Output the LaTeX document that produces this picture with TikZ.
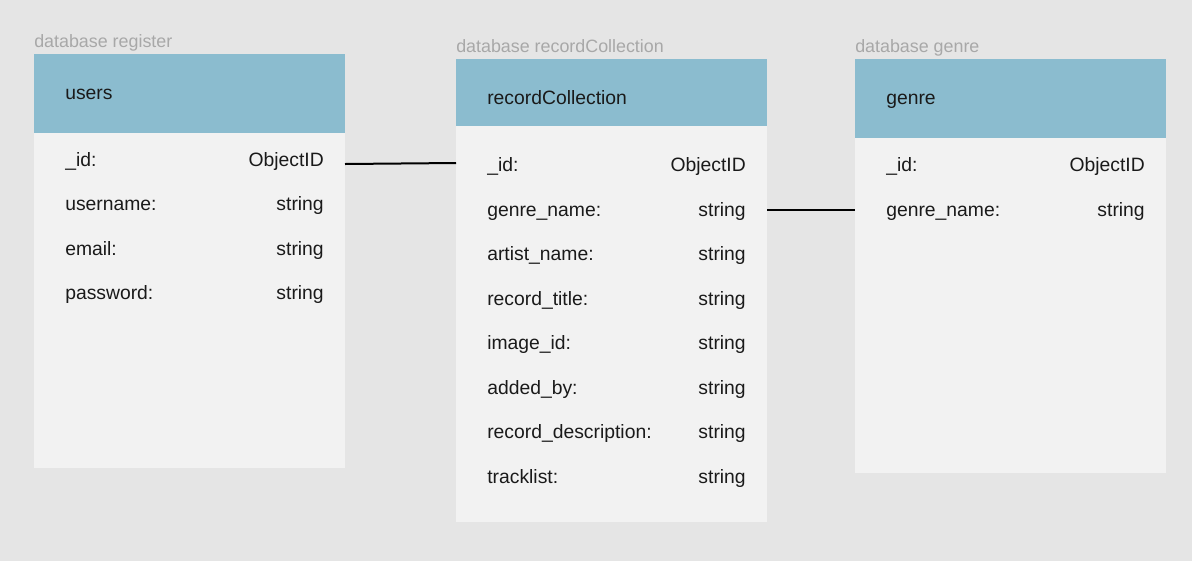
\documentclass[tikz,border=0pt]{standalone}
\usepackage{fontspec}
\setmainfont{Liberation Sans}
\definecolor{bg}{HTML}{E5E5E5}
\definecolor{hdr}{HTML}{8BBCCF}
\definecolor{bodyc}{HTML}{F2F2F2}
\definecolor{lbl}{HTML}{A8A8A8}
\definecolor{txt}{HTML}{1A1A1A}
\begin{document}
\begin{tikzpicture}[x=0.75pt,y=-0.75pt,
  hdrbox/.style={fill=hdr,draw=none,inner sep=0pt,anchor=north west},
  bodybox/.style={fill=bodyc,draw=none,inner sep=0pt,anchor=north west},
  dblabel/.style={anchor=base west,inner sep=0pt,text=lbl,font=\fontsize{13.4pt}{15pt}\selectfont},
  title/.style={anchor=base west,inner sep=0pt,text=txt,font=\fontsize{14.5pt}{17pt}\selectfont},
  fld/.style={anchor=base west,inner sep=0pt,text=txt,font=\fontsize{14.5pt}{17pt}\selectfont},
  typ/.style={anchor=base east,inner sep=0pt,text=txt,font=\fontsize{14.5pt}{17pt}\selectfont},
  link/.style={draw=black,line width=1.5pt}]
\fill[bg] (0,0) rectangle (1192,561);
\useasboundingbox (0,0) rectangle (1192,561);

% users
\node[bodybox,minimum width=311*0.75pt,minimum height=414*0.75pt] (ubody) at (34,54) {};
\node[hdrbox,minimum width=311*0.75pt,minimum height=79*0.75pt] (uhdr) at (34,54) {};
\node[dblabel] (ulbl) at (34,47) {database register};
\node[title] (utitle) at (65,99) {users};
\node[fld] (uid) at (65,166) {\_id:};
\node[typ] (uidt) at (324,166) {ObjectID};
\node[fld] (uun) at (65,210) {username:};
\node[typ] (uunt) at (324,210) {string};
\node[fld] (uem) at (65,255) {email:};
\node[typ] (uemt) at (324,255) {string};
\node[fld] (upw) at (65,299) {password:};
\node[typ] (upwt) at (324,299) {string};

% recordCollection
\node[bodybox,minimum width=311*0.75pt,minimum height=463*0.75pt] (rbody) at (456,59) {};
\node[hdrbox,minimum width=311*0.75pt,minimum height=67*0.75pt] (rhdr) at (456,59) {};
\node[dblabel] (rlbl) at (456,52) {database recordCollection};
\node[title] (rtitle) at (487,104) {recordCollection};
\node[fld] (rid) at (487,171) {\_id:};
\node[typ] (ridt) at (746,171) {ObjectID};
\node[fld] (rgn) at (487,216) {genre\_name:};
\node[typ] (rgnt) at (746,216) {string};
\node[fld] (ran) at (487,260) {artist\_name:};
\node[typ] (rant) at (746,260) {string};
\node[fld] (rrt) at (487,305) {record\_title:};
\node[typ] (rrtt) at (746,305) {string};
\node[fld] (rim) at (487,349) {image\_id:};
\node[typ] (rimt) at (746,349) {string};
\node[fld] (rab) at (487,394) {added\_by:};
\node[typ] (rabt) at (746,394) {string};
\node[fld] (rrd) at (487,438) {record\_description:};
\node[typ] (rrdt) at (746,438) {string};
\node[fld] (rtl) at (487,483) {tracklist:};
\node[typ] (rtlt) at (746,483) {string};

% genre
\node[bodybox,minimum width=311*0.75pt,minimum height=414*0.75pt] (gbody) at (855,59) {};
\node[hdrbox,minimum width=311*0.75pt,minimum height=79*0.75pt] (ghdr) at (855,59) {};
\node[dblabel] (glbl) at (855,52) {database genre};
\node[title] (gtitle) at (886,104) {genre};
\node[fld] (gid) at (886,171) {\_id:};
\node[typ] (gidt) at (1145,171) {ObjectID};
\node[fld] (ggn) at (886,216) {genre\_name:};
\node[typ] (ggnt) at (1145,216) {string};

% connectors
\coordinate (c1a) at (345,164);
\coordinate (c1b) at (456,163);
\coordinate (c2a) at (767,210);
\coordinate (c2b) at (855,210);
\draw[link] (c1a) -- (c1b);
\draw[link] (c2a) -- (c2b);
\end{tikzpicture}
\end{document}
